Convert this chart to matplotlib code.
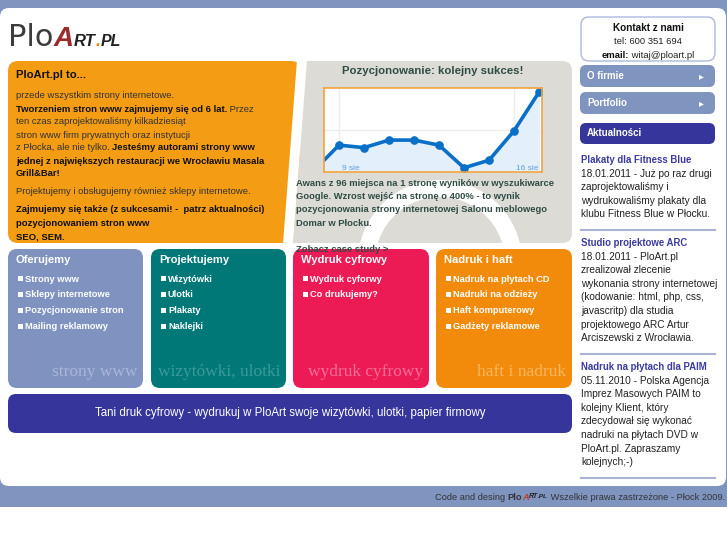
"""
PloArt.pl home page mock-up, with the small "Pozycjonowanie" visits chart.

Output: out.png (727x545)
"""

import matplotlib

matplotlib.use("Agg")
import matplotlib.pyplot as plt
from matplotlib.font_manager import FontProperties
from matplotlib.patches import FancyBboxPatch, Polygon, Rectangle, Wedge

# ---------------------------------------------------------------- data
# visits chart (Google Analytics style, days of August)
DAYS = [8, 9, 10, 11, 12, 13, 14, 15, 16, 17]
VISITS = [2, 32, 29, 38, 38, 32, 5, 14, 49, 95]
DAY_TICKS = [9, 16]
DAY_LABELS = ["9 sie", "16 sie"]

INTRO_TITLE = "PloArt.pl to..."
INTRO_LINES = [
    [("przede wszystkim strony internetowe.", False)],
    [("Tworzeniem stron www zajmujemy się od 6 lat.", True), (" Przez", False)],
    [("ten czas zaprojektowaliśmy kilkadziesiąt", False)],
    [("stron www firm prywatnych oraz instytucji", False)],
    [("z Płocka, ale nie tylko. ", False), ("Jesteśmy autorami strony www", True)],
    [("jednej z największych restauracji we Wrocławiu Masala", True)],
    [("Grill&Bar!", True)],
    [("Projektujemy i obsługujemy również sklepy internetowe.", False)],
    [("Zajmujemy się także (z sukcesami! -  patrz aktualności)", True)],
    [("pozycjonowaniem stron www", True)],
    [("SEO, SEM.", True)],
]

SEO_TITLE = "Pozycjonowanie: kolejny sukces!"
SEO_LINES = [
    "Awans z 96 miejsca na 1 stronę wyników w wyszukiwarce",
    "Google. Wzrost wejść na stronę o 400% - to wynik",
    "pozycjonowania strony internetowej Salonu meblowego",
    "Domar w Płocku.",
]
SEO_LINK = "Zobacz case study >"

BOX_TITLES = ["Oferujemy", "Projektujemy", "Wydruk cyfrowy", "Nadruk i haft"]
BOX_ITEMS = [
    ["Strony www", "Sklepy internetowe", "Pozycjonowanie stron", "Mailing reklamowy"],
    ["Wizytówki", "Ulotki", "Plakaty", "Naklejki"],
    ["Wydruk cyforwy", "Co drukujemy?"],
    ["Nadruk na płytach CD", "Nadruki na odzieży", "Haft komputerowy", "Gadżety reklamowe"],
]
BOX_MARKS = ["strony www", "wizytówki, ulotki", "wydruk cyfrowy", "haft i nadruk"]

BANNER = "Tani druk cyfrowy - wydrukuj w PloArt swoje wizytówki, ulotki, papier firmowy"

MENU = ["O firmie", "Portfolio"]
NEWS_HEADER = "Aktualności"
NEWS_TITLES = ["Plakaty dla Fitness Blue", "Studio projektowe ARC", "Nadruk na płytach dla PAIM"]
NEWS_LINES = [
    ["18.01.2011 - Już po raz drugi", "zaprojektowaliśmy i",
     "wydrukowaliśmy plakaty dla", "klubu Fitness Blue w Płocku."],
    ["18.01.2011 - PloArt.pl", "zrealizował zlecenie", "wykonania strony internetowej",
     "(kodowanie: html, php, css,", "javascritp) dla studia",
     "projektowego ARC Artur", "Arciszewski z Wrocławia."],
    ["05.11.2010 - Polska Agencja", "Imprez Masowych PAIM to", "kolejny Klient, który",
     "zdecydował się wykonać", "nadruki na płytach DVD w", "PloArt.pl. Zapraszamy",
     "kolejnych;-)"],
]

# ---------------------------------------------------------------- styles
SANS = ["Liberation Sans", "DejaVu Sans"]
SERIF = ["Liberation Serif", "DejaVu Serif"]

BAND = "#8094c0"
ORANGE = "#f39c14"
GREY = "#dcdbd6"
NAVY = "#35359b"
SEO_TEXT = "#2f4c45"
BOX_COLORS = ["#7f92c0", "#007878", "#ec1a55", "#f28b0c"]
MARK_COLORS = ["#aab6d9", "#3c9a9a", "#f66f94", "#f8b65e"]

W, H = 727, 545
fig = plt.figure(figsize=(W / 100, H / 100), dpi=100, facecolor="white")
ax = fig.add_axes([0, 0, 1, 1])
ax.set_xlim(0, W)
ax.set_ylim(H, 0)
ax.axis("off")
renderer = fig.canvas.get_renderer()


def rbox(x0, y0, x1, y1, color, r=8, **kw):
    patch = FancyBboxPatch((x0 + r, y0 + r), x1 - x0 - 2 * r, y1 - y0 - 2 * r,
                           boxstyle=f"round,pad={r}", fc=color, ec="none", **kw)
    ax.add_patch(patch)
    return patch


def measure(s, **font):
    prop = FontProperties(**font)
    bar = renderer.get_text_width_height_descent("|", prop, ismath=False)[0]
    full = renderer.get_text_width_height_descent(s + "|", prop, ismath=False)[0]
    return full - bar


def fit(parts, width):
    """shrink font sizes so the run is `width` px wide (no narrow font here)"""
    total = sum(measure(s, **f) for s, f, _ in parts)
    k = width / total
    return [(s, dict(f, size=f["size"] * k), c) for s, f, c in parts]


def rich(x, y, parts, align="left", va="center", zorder=3):
    """parts: list of (text, font dict, color)"""
    widths = [measure(s, **f) for s, f, _ in parts]
    if align == "center":
        x -= sum(widths) / 2
    elif align == "right":
        x -= sum(widths)
    for (s, f, c), w in zip(parts, widths):
        ax.text(x, y, s, color=c, va=va, ha="left", zorder=zorder,
                fontproperties=FontProperties(**f))
        x += w


def sans(size, bold=False):
    return dict(family=SANS, size=size, weight="bold" if bold else "normal")


# ---------------------------------------------------------------- page frame
ax.add_patch(Rectangle((0, 0), W, 507, fc=BAND, ec="none"))
rbox(0, 8, 726, 486, "white", r=9)

# logo
hand = dict(family=SANS, weight="bold", style="italic")
rich(8, 46, [("Plo", dict(family=["DejaVu Sans"], size=22), "#3c3c3c"),
             ("A", dict(hand, size=20), "#9b2b2b"),
             ("RT", dict(hand, size=12), "#222222"),
             (".", dict(hand, size=13), "#f08a10"),
             ("PL", dict(hand, size=11.5), "#222222")], va="baseline")

# ---------------------------------------------------------------- top panels
grey = rbox(283, 61, 572, 243, GREY, r=10)
ring = Wedge((440, 262), 82, 0, 360, width=17, fc="white", ec="none", zorder=1.2)
ax.add_patch(ring)
ring.set_clip_path(grey)
rbox(8, 61, 300, 243, ORANGE, r=10)
ax.add_patch(Polygon([(301, 61), (307, 61), (293, 243), (301, 243)], fc=GREY, ec="none"))
ax.add_patch(Polygon([(297, 60), (307, 60), (293, 244), (283, 244)], fc="white", ec="none"))

rich(16, 75, [(INTRO_TITLE, sans(8.1, True), "#111111")])
intro_y = [96, 109, 122, 135, 148, 162, 174, 192, 210, 223, 237]
for y, line in zip(intro_y, INTRO_LINES):
    rich(16, y, [(s, sans(6.8, b), "#111111" if b else "#333333") for s, b in line])

rich(433, 71, [(SEO_TITLE, sans(8.2, True), SEO_TEXT)], align="center")
for i, line in enumerate(SEO_LINES):
    rich(296, 183 + i * 13.4, [(line, sans(6.75, True), SEO_TEXT)])
rich(296, 249, [(SEO_LINK, sans(6.8, True), SEO_TEXT)], zorder=5)

# visits chart
cax = fig.add_axes([324 / W, (H - 172) / H, 218 / W, 84 / H])
cax.set_facecolor("white")
cax.set_xlim(8.4, 17.12)
cax.set_ylim(0, 100)
for d in DAY_TICKS:
    cax.axvline(d, color="#ececec", lw=1, zorder=0)
cax.axhline(50, color="#ececec", lw=1, zorder=0)
cax.fill_between(DAYS, VISITS, 0, color="#e3effa", zorder=1)
cax.plot(DAYS, VISITS, color="#0a6fc6", lw=2.6, marker="o", ms=5.2, zorder=2)
for d, lab in zip(DAY_TICKS, DAY_LABELS):
    cax.text(d + 0.1, 4, lab, color="#5f9fdb", fontsize=6, family=SANS,
             ha="left", va="center", zorder=3)
cax.set_xticks([])
cax.set_yticks([])
for sp in cax.spines.values():
    sp.set_color("#f5a33a")
    sp.set_linewidth(1.2)

# ---------------------------------------------------------------- service boxes
box_x = [(8, 143), (151, 286), (293, 429), (436, 572)]
for (x0, x1), title, items, mark, col, mcol in zip(
        box_x, BOX_TITLES, BOX_ITEMS, BOX_MARKS, BOX_COLORS, MARK_COLORS):
    rbox(x0, 249, x1, 388, col, r=9)
    rich(x0 + 8, 260, [(title, sans(8, True), "white")])
    for j, item in enumerate(items):
        y = 279 + j * 15.7
        ax.add_patch(Rectangle((x0 + 10, y - 2.6), 5, 5, fc="white", ec="none", zorder=3))
        rich(x0 + 17, y, [(item, sans(6.7, True), "white")])
    ax.text(x1 - 6, 372, mark, color=mcol, family=SERIF, fontsize=12.5,
            ha="right", va="center", zorder=3)

rbox(8, 394, 572, 433, NAVY, r=8)
rich(290, 413, fit([(BANNER, sans(10), "white")], 393), align="center")

# ---------------------------------------------------------------- right column
ax.add_patch(FancyBboxPatch((589, 25), 118, 28, boxstyle="round,pad=8",
                            fc="white", ec="#aeb8dc", lw=1))
rich(648, 28, [("Kontakt z nami", sans(7.2, True), "#111111")], align="center")
rich(648, 42, [("tel: 600 351 694", sans(6.8), "#222222")], align="center")
rich(648, 55, [("email:", sans(6.8, True), "#111111"),
               (" witaj@ploart.pl", sans(6.8), "#222222")], align="center")

for i, label in enumerate(MENU):
    y0 = 65 + i * 27
    rbox(580, y0, 715, y0 + 22, BAND, r=6)
    rich(587, y0 + 11, [(label, sans(7, True), "white")])
    ax.text(701, y0 + 11, "\u25b8", color="white", fontsize=7, family=["DejaVu Sans"],
            ha="center", va="center")
rbox(580, 123, 715, 144, NAVY, r=6)
rich(587, 133.5, [(NEWS_HEADER, sans(7, True), "white")])

news_y = [160, 243, 367]
for y0, title, lines in zip(news_y, NEWS_TITLES, NEWS_LINES):
    rich(581, y0, [(title, sans(6.9, True), "#3b3ba0")])
    for k, line in enumerate(lines):
        rich(581, y0 + 13.6 * (k + 1), [(line, sans(7.3), "#222222")])
    ax.plot([581, 715], [y0 + 13.6 * (len(lines) + 1) + 2] * 2, color="#aab4d6", lw=1.5)

# ---------------------------------------------------------------- footer
mini = dict(family=SANS, weight="bold", style="italic")
footer = fit([("Code and desing ", sans(8), "#333333"),
              ("Plo", sans(8, True), "#333333"),
              ("A", dict(mini, size=8), "#c0392b"),
              ("RT", dict(mini, size=6), "#222222"),
              (".PL", dict(mini, size=5.5), "#222222"),
              (" Wszelkie prawa zastrzeżone - Płock 2009.", sans(8), "#333333")], 293)
rich(725, 497, footer, align="right")

fig.savefig("out.png", dpi=100, facecolor="white")
